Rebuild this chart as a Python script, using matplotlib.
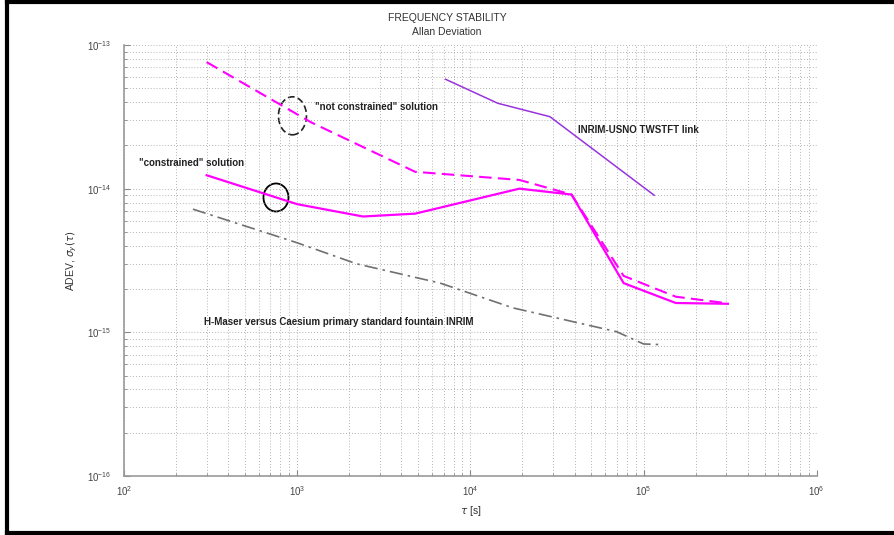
import matplotlib
matplotlib.use("Agg")
import matplotlib.pyplot as plt
from matplotlib.patches import Ellipse
from matplotlib.lines import Line2D
from matplotlib.ticker import NullFormatter, FixedLocator, LogLocator

# "not constrained" solution (dashed magenta)
tau_nc = [300, 1200, 4800, 19200, 38400, 76800, 153600, 307200]
adev_nc = [7.6e-14, 2.9e-14, 1.31e-14, 1.15e-14, 9.1e-15, 2.47e-15, 1.77e-15, 1.59e-15]

# "constrained" solution (solid magenta)
tau_c = [300, 1000, 2400, 4800, 19200, 38400, 76800, 153600, 307200]
adev_c = [1.24e-14, 7.8e-15, 6.4e-15, 6.7e-15, 1.0e-14, 9.1e-15, 2.2e-15, 1.6e-15, 1.58e-15]

# INRIM-USNO TWSTFT link
tau_tw = [7200, 14400, 28800, 115200]
adev_tw = [5.77e-14, 3.93e-14, 3.17e-14, 9.0e-15]

# H-Maser vs Cs fountain
tau_hm = [250, 1000, 2200, 6700, 17600, 70000, 100000, 130000]
adev_hm = [7.2e-15, 4.2e-15, 3.0e-15, 2.2e-15, 1.48e-15, 1.01e-15, 8.3e-16, 8.2e-16]

xticks = [1e2, 1e3, 1e4, 1e5, 1e6]
yticks = [1e-16, 1e-15, 1e-14, 1e-13]

plt.rcParams['font.family'] = ['Liberation Sans', 'DejaVu Sans']

fig = plt.figure(figsize=(8.94, 5.35), dpi=100)
ax = fig.add_axes([0.1387, 0.1103, 0.7748, 0.8056])

ax.plot(tau_nc, adev_nc, color='#ff00ff', lw=1.5, ls=(0, (6, 3)))
ax.plot(tau_c, adev_c, color='#ff00ff', lw=1.6)
ax.plot(tau_tw, adev_tw, color='#9933dd', lw=1.1)
ax.plot(tau_hm, adev_hm, color='#707070', lw=1.2, ls=(0, (8, 3, 1.5, 3)))

ax.set_xscale('log')
ax.set_yscale('log')
ax.set_xlim(1e2, 1e6)
ax.set_ylim(1e-16, 1e-13)
ax.xaxis.set_major_locator(FixedLocator(xticks))
ax.yaxis.set_major_locator(FixedLocator(yticks))
ax.xaxis.set_minor_locator(LogLocator(base=10, subs=range(2, 10)))
ax.yaxis.set_minor_locator(LogLocator(base=10, subs=range(2, 10)))
ax.xaxis.set_minor_formatter(NullFormatter())
ax.yaxis.set_minor_formatter(NullFormatter())

ax.grid(True, which='both', ls=(0, (1, 2.5)), color='#9a9a9a', lw=0.6)
ax.tick_params(which='both', direction='in', colors='#888888', labelcolor='#444444', labelsize=7)
ax.tick_params(which='major', length=4)
ax.tick_params(which='minor', length=2.5)
ax.tick_params(axis='y', which='major', pad=9)
ax.tick_params(axis='x', which='major', pad=6)
for s in ['top', 'right']:
    ax.spines[s].set_visible(False)
for s in ['left', 'bottom']:
    ax.spines[s].set_color('#999999')
    ax.spines[s].set_linewidth(1.2)

ax.set_xlabel(r'$\tau$ [s]', fontsize=7.5, color='#333333', labelpad=4)
ax.set_ylabel(r'ADEV, $\sigma_y(\tau)$', fontsize=7.5, color='#333333', labelpad=6)

fig.text(0.5, 0.966, 'FREQUENCY STABILITY', ha='center', va='center', fontsize=7.5, color='#333333')
fig.text(0.5, 0.940, 'Allan Deviation', ha='center', va='center', fontsize=7.5, color='#333333')

kw = dict(fontsize=7, fontweight='bold', color='#222222', va='center', ha='left')
ax.text(1268, 3.7e-14, '"not constrained" solution', **kw)
ax.text(122, 1.51e-14, '"constrained" solution', **kw)
ax.text(41800, 2.56e-14, 'INRIM-USNO TWSTFT link', **kw)
ax.text(290, 1.18e-15, 'H-Maser versus Caesium primary standard fountain INRIM', **kw)

# annotation ellipses (axes fraction)
ax.add_patch(Ellipse((0.2194, 0.6462), 0.0361, 0.065, transform=ax.transAxes,
                     fill=False, ec='black', lw=1.3))
ax.add_patch(Ellipse((0.2432, 0.8357), 0.0404, 0.0882, transform=ax.transAxes,
                     fill=False, ec='#222222', lw=1.2, ls=(0, (4, 2))))

# black frame around the picture (top, left, bottom)
fig.add_artist(Line2D([0.008, 1.0], [0.996, 0.996], color='black', lw=3))
fig.add_artist(Line2D([0.008, 0.008], [0.003, 0.996], color='black', lw=3))
fig.add_artist(Line2D([0.008, 1.0], [0.003, 0.003], color='black', lw=3))

fig.savefig('out.png', dpi=100)
